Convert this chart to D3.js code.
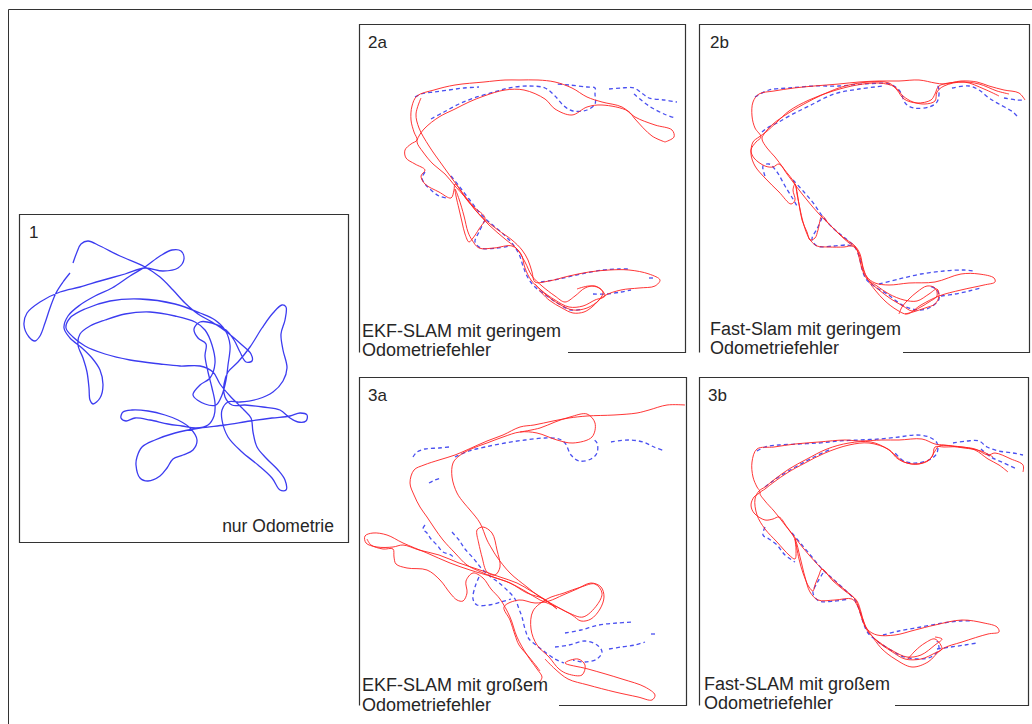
<!DOCTYPE html>
<html>
<head>
<meta charset="utf-8">
<script src="https://cdn.jsdelivr.net/npm/d3@7"></script>
<style>
  body { margin: 0; background: #fff; }
  svg { display: block; }
  .lbl { font-family: "Liberation Sans", Arial, sans-serif; fill: #262626; }
</style>
</head>
<body>
<svg id="fig" width="1032" height="724"></svg>
<script>
// panel 1: odometry only (local px units inside the panel)
const odoPath = [[54,49],[58,38],[62,30],[69,27],[81,32],[101,42],[126,53],[141,63],[154,76],[166,89],[179,100],[193,108],[209,119],[223,131],[232,140],[233,147],[227,148],[221,138],[215,126],[207,116],[193,109],[181,108],[175,115],[179,124],[187,130],[186,142],[189,158],[193,174],[196,189],[195,202],[189,211],[177,214],[163,212],[149,210],[131,206],[116,204],[107,207],[102,204],[104,198],[113,196],[129,197],[146,201],[159,206],[171,214],[178,226],[174,236],[164,241],[154,245],[148,254],[141,262],[129,267],[121,264],[117,251],[118,243],[123,233],[136,226],[156,219],[181,214],[206,211],[231,207],[253,204],[271,202],[281,199],[288,201],[287,207],[279,208],[271,204],[261,196],[244,193],[226,191],[213,191],[206,183],[205,170],[209,158],[219,148],[231,133],[243,114],[254,99],[263,91],[267,93],[266,106],[262,120],[264,136],[268,154],[264,167],[254,178],[239,185],[221,188],[209,188],[203,196],[203,206],[209,223],[223,238],[239,251],[253,264],[261,276],[267,276],[266,266],[259,256],[247,244],[238,233],[234,218],[232,204],[225,196],[211,182],[201,170],[194,158],[181,152],[161,152],[141,150],[111,146],[86,140],[66,132],[54,123],[47,114],[51,104],[66,95],[91,87],[121,85],[156,90],[181,99],[196,106],[206,116],[211,131],[209,151],[207,166],[203,181],[197,191],[186,190],[174,181],[181,171],[191,164],[196,149],[193,131],[186,116],[176,108],[156,102],[131,98],[106,100],[86,106],[71,112],[61,120],[59,131],[64,144],[68,158],[70,174],[71,186],[74,190],[81,184],[84,171],[81,156],[73,144],[63,134],[51,124],[45,114],[49,102],[61,91],[76,82],[93,74],[111,62],[126,53],[141,42],[153,36],[162,37],[165,45],[159,54],[144,57],[126,54],[106,60],[81,67],[61,73],[41,78],[21,88],[8,99],[5,111],[10,123],[16,127],[21,122],[26,109],[31,94],[37,79],[44,68],[51,59]];

// panel 2a: EKF-SLAM, small odometry error
const ekfSmallRed1 = [[306,118],[315,113],[313,106],[296,101],[276,93],[263,83],[243,78],[228,73],[213,64],[196,58],[179,56],[160,56],[146,56],[125,58],[96,61],[75,66],[58,72],[53,82],[52,96],[55,108],[58,116],[52,120],[46,126],[47,134],[56,140],[66,146],[62,152],[66,160],[80,168],[92,174],[95,166],[96,160],[108,176],[123,193],[139,206],[153,216],[163,226],[169,236],[173,248],[176,258],[190,257],[210,252],[230,248],[250,246],[270,246],[290,250],[301,256],[296,262],[280,264],[262,266],[245,272],[233,283],[225,288],[214,289],[203,284],[190,276],[180,266]];
const ekfSmallRed2 = [[176,260],[186,270],[200,280],[214,286],[228,284],[240,276],[244,268],[236,262],[226,264],[216,272],[206,278],[196,272],[183,262],[173,252],[166,238],[158,225],[146,215],[130,201],[118,188],[106,173],[96,162],[86,150],[74,140],[64,128],[58,118],[60,112],[66,104],[80,93],[96,85],[110,78],[125,72],[146,66],[165,66],[186,75],[196,85],[213,91],[228,83],[243,81],[269,87],[276,95],[293,112],[306,118]];
const ekfSmallRed3 = [[62,74],[57,90],[60,104],[70,122],[84,142],[100,164],[114,182],[126,194],[120,205],[114,214],[110,218],[106,210],[103,198],[100,185],[97,172],[96,165],[100,175],[105,192],[109,208],[113,216],[120,224],[135,224],[153,222],[162,230],[166,244],[172,256],[182,266],[196,276],[210,283],[224,282],[236,276],[246,272],[240,264],[230,262],[218,265]];
const ekfSmallBlue = [
  [[56,73],[62,70],[75,68],[90,66],[105,64],[120,63]],
  [[72,95],[85,88],[100,80],[115,74],[135,68],[150,64],[170,62],[186,64],[196,72],[205,82],[214,87],[228,86],[236,80],[236,70],[236,64],[228,63],[210,61],[196,60]],
  [[250,65],[262,64],[275,64],[284,70],[290,74],[305,76],[318,78]],
  [[275,70],[290,82],[305,90],[316,94]],
  [[66,148],[63,154],[66,160],[72,166],[80,172],[88,174]],
  [[92,152],[100,162],[110,175],[120,188],[130,198],[142,208],[152,218],[160,230],[164,242],[168,252],[175,262],[188,272],[200,280],[212,286],[224,285]],
  [[126,196],[120,208],[116,218],[122,224],[138,224],[150,222]],
  [[182,258],[200,255],[222,250],[244,246],[260,245],[270,245]],
  [[234,270],[248,270],[262,268],[272,266]],
  [[290,254],[294,254]]
];

// panel 2b: Fast-SLAM, small odometry error
const fastSmallRed1 = [[326,76],[320,69],[305,66],[290,62],[278,58],[262,57],[245,60],[236,59],[220,56],[200,57],[180,57],[160,58],[140,60],[115,62],[95,64],[75,67],[60,70],[54,78],[53,92],[56,104],[62,113],[57,118],[52,126],[55,134],[66,142],[74,143],[80,140],[88,150],[97,162],[108,176],[120,190],[132,202],[145,214],[156,222],[161,230],[164,243],[168,253],[176,259],[190,261],[210,259],[236,258],[262,250],[280,250],[295,254],[296,258],[285,261],[262,266],[240,272],[222,281],[208,290],[198,286],[186,277],[176,266],[170,258]];
const fastSmallRed2 = [[310,70],[298,67],[280,60],[262,58],[240,62],[236,70],[232,76],[218,79],[205,75],[198,66],[190,59],[170,58],[146,62],[125,70],[105,80],[88,90],[74,100],[65,110],[63,115],[68,124],[76,133],[85,145],[96,160],[98,170],[101,185],[104,198],[108,210],[112,217],[118,222],[130,223],[145,223],[153,222],[158,226],[162,236],[165,248],[171,258],[180,266],[192,275],[204,282],[213,287],[220,284],[230,278],[238,272],[236,264],[228,262],[218,268],[210,275],[203,283],[200,290]];
const fastSmallRed3 = [[300,72],[285,65],[265,58],[245,62],[238,68],[236,77],[226,80],[214,78],[204,72],[196,63],[180,59],[158,61],[134,67],[110,76],[90,87],[78,98],[67,108],[60,113],[54,118],[52,130],[56,142],[66,154],[80,168],[92,180],[96,176],[94,166],[96,160],[100,180],[103,196],[108,208],[111,216],[116,214],[119,206],[123,192],[130,200],[140,210],[150,219],[157,224],[160,233],[163,245],[168,255],[178,262],[190,270],[205,276],[218,277],[230,270],[238,265],[240,272],[236,280],[226,284],[214,288],[206,290]];
const fastSmallBlue = [
  [[56,73],[70,66],[90,64],[115,62],[140,62],[165,60],[190,60],[200,66],[207,80],[215,84],[230,83],[238,78],[240,66],[238,60]],
  [[63,108],[68,104],[78,99],[92,91],[110,82],[135,70],[160,65],[185,62]],
  [[253,64],[270,62],[280,66],[290,74],[300,80],[314,88],[318,92]],
  [[305,74],[318,76],[326,76]],
  [[66,152],[64,142],[70,140],[78,148],[86,162],[94,175],[98,182]],
  [[94,156],[105,168],[115,180],[124,193],[135,205],[146,214],[155,222],[160,232],[163,245],[167,255],[175,262],[188,270],[205,282],[220,286],[232,283],[240,275],[238,266],[230,262]],
  [[123,194],[118,205],[113,215],[118,222],[135,222],[148,221],[153,222]],
  [[180,260],[200,255],[222,250],[245,247],[265,246],[275,247]],
  [[242,272],[256,270],[270,267],[282,264]]
];

// panel 3a: EKF-SLAM, large odometry error
const ekfLargeRed1 = [[326,28],[308,28],[290,33],[278,36],[255,38],[228,39],[210,41],[194,44],[175,48],[161,50],[144,58],[128,64],[110,72],[96,78],[80,83],[65,88],[55,93],[51,106],[55,118],[61,130],[68,140],[76,152],[84,163],[96,176],[108,188],[122,195],[134,200],[151,206],[166,214],[181,223],[198,230],[213,238],[222,244],[232,242],[241,232],[245,220],[242,210],[232,206],[218,212],[204,218],[190,224],[176,226],[160,223],[145,230],[151,243],[156,258],[160,268],[170,280],[178,290],[181,294]];
const ekfLargeRed2 = [[161,55],[181,51],[196,45],[211,40],[228,37],[236,46],[233,60],[214,66],[198,63],[178,56],[161,55],[144,60],[128,66],[112,72],[100,79],[94,86],[93,100],[98,116],[105,126],[111,133],[121,146],[128,163],[133,172],[138,180],[151,196],[168,210],[181,220],[195,228],[210,236],[224,240],[238,228],[243,216],[236,207],[222,210],[205,216],[188,222],[174,234],[172,252],[178,268],[190,280],[200,292],[209,297],[223,298],[226,288],[219,282],[206,286],[229,292],[263,302],[286,310],[296,318],[293,323],[279,320],[256,315],[229,308],[209,302],[196,292],[186,282]];
const ekfLargeRed3 = [[198,232],[185,222],[168,216],[151,206],[134,200],[111,193],[91,186],[68,176],[44,166],[28,158],[14,156],[6,159],[7,166],[18,170],[34,170],[44,168],[60,173],[80,178],[100,186],[121,193],[141,200],[158,206],[172,214],[185,222],[198,232]];
const ekfLargeRed4 = [[8,162],[12,168],[24,172],[34,172],[35,180],[37,187],[48,191],[68,193],[81,203],[91,216],[98,223],[104,224],[108,216],[107,204],[114,196],[124,201],[132,212],[141,222],[151,240],[158,260],[168,278],[178,292],[183,300],[180,306]];
const ekfLargeRed5 = [[119,163],[118,153],[124,150],[133,156],[138,173],[141,190],[136,198],[128,195],[123,180],[119,163]];
const ekfLargeBlue = [
  [[54,80],[58,75],[66,72],[80,71],[90,70]],
  [[70,106],[76,103],[82,101]],
  [[96,80],[110,74],[126,70],[146,66],[166,63],[186,61],[200,62],[206,66],[212,78],[220,84],[232,82],[238,76],[238,66],[234,62]],
  [[252,65],[270,63],[284,65],[295,70],[306,74]],
  [[66,148],[64,152],[68,156],[72,162],[78,168],[84,175],[92,178],[96,182]],
  [[93,155],[100,163],[106,172],[115,182],[123,192],[132,200],[139,205],[148,213],[156,222],[160,232],[163,240],[166,252],[170,262],[177,268],[186,275],[196,282],[205,286]],
  [[120,200],[116,210],[114,222],[118,228],[130,228],[142,225],[152,222]],
  [[206,256],[222,253],[240,248],[258,246],[273,245]],
  [[196,270],[210,268],[226,264],[238,268],[243,275],[238,282],[226,285],[214,283]],
  [[250,272],[262,270],[276,268],[286,265]],
  [[292,257],[296,257]]
];

// panel 3b: Fast-SLAM, large odometry error
const fastLargeRed1 = [[324,95],[324,88],[312,82],[296,76],[289,78],[276,72],[263,70],[245,68],[236,67],[223,62],[200,63],[183,63],[160,64],[146,63],[120,65],[96,67],[75,70],[58,72],[53,85],[54,100],[58,110],[61,115],[55,120],[52,128],[55,136],[66,143],[74,142],[80,140],[88,150],[97,162],[110,178],[123,192],[139,207],[152,218],[158,224],[162,235],[165,246],[169,253],[178,258],[196,258],[216,253],[236,248],[263,243],[285,246],[298,250],[300,255],[289,257],[263,265],[243,272],[229,285],[213,290],[196,282],[183,272],[175,262]];
const fastLargeRed2 = [[309,95],[300,88],[289,82],[276,73],[263,70],[245,70],[236,70],[233,80],[220,87],[205,85],[196,78],[189,72],[170,66],[150,68],[126,76],[106,86],[88,96],[75,105],[66,112],[61,116],[66,124],[75,134],[86,148],[96,162],[101,180],[106,200],[111,215],[119,223],[136,223],[153,222],[158,228],[163,240],[168,252],[178,264],[192,274],[206,282],[222,282],[236,276],[243,272],[236,262],[226,266],[216,274],[209,282]];
const fastLargeRed3 = [[294,80],[282,74],[265,71],[240,69],[236,74],[229,84],[213,87],[199,82],[190,73],[172,65],[150,66],[128,72],[108,82],[90,92],[76,102],[66,110],[60,114],[56,122],[58,138],[66,152],[78,165],[90,178],[96,182],[97,172],[96,162],[100,182],[104,196],[110,210],[114,214],[116,208],[120,198],[123,192],[134,204],[146,214],[156,222],[160,232],[164,245],[170,256],[180,265],[194,274],[208,280],[222,278],[236,268],[243,262],[236,260]];
const fastLargeBlue = [
  [[58,74],[66,70],[80,68],[100,67],[120,66],[140,64],[160,63],[180,62],[200,60],[216,58],[230,60],[238,66],[238,76],[232,82],[218,86],[205,84],[196,76]],
  [[66,110],[74,104],[86,96],[100,88],[115,80],[132,72]],
  [[254,66],[268,64],[280,64],[288,70],[300,74],[314,76],[324,78]],
  [[282,72],[292,80],[305,86],[318,92]],
  [[66,150],[64,158],[70,162],[78,168],[86,178],[96,185]],
  [[93,156],[103,168],[113,180],[123,192],[134,202],[145,212],[155,222],[160,232],[164,245],[169,256],[178,264],[190,272],[205,280],[220,282],[232,280],[240,272],[238,264]],
  [[124,196],[118,206],[114,216],[120,224],[136,224],[150,222]],
  [[184,258],[200,254],[222,250],[244,246],[262,244],[274,244]],
  [[238,272],[252,270],[266,268],[278,266]]
];

const panelIds = ["1", "2a", "2b", "3a", "3b"];
const captions = [
  ["nur Odometrie"],
  ["EKF-SLAM mit geringem", "Odometriefehler"],
  ["Fast-Slam mit geringem", "Odometriefehler"],
  ["EKF-SLAM mit großem", "Odometriefehler"],
  ["Fast-SLAM mit großem", "Odometriefehler"]
];

const svg = d3.select("#fig");
const font = '"Liberation Sans", Arial, sans-serif';

// outer frame (top and left edge visible)
svg.append("path")
  .attr("d", "M8.5,724 V9.5 H1032")
  .attr("fill", "none").attr("stroke", "#333").attr("stroke-width", 1);

// panel layout: box, label pos, caption pos, where the bottom edge starts
const layout = [
  {x: 19, y: 214, w: 329, h: 328, full: true, idX: 29, idY: 238, capX: 334, capY: [532], anchor: "end", capSize: 17.5},
  {x: 359, y: 24, w: 326, h: 328, bottomFrom: 568, idX: 368, idY: 48, capX: 362, capY: [337, 356]},
  {x: 699, y: 24, w: 330, h: 328, bottomFrom: 903, idX: 710, idY: 48, capX: 710, capY: [335, 354]},
  {x: 359, y: 377, w: 327, h: 328, bottomFrom: 559, idX: 368, idY: 401, capX: 362, capY: [691, 711]},
  {x: 699, y: 377, w: 329, h: 328, bottomFrom: 895, idX: 708, idY: 401, capX: 704, capY: [690, 709]}
];

const redSets = [[], [ekfSmallRed1, ekfSmallRed2, ekfSmallRed3], [fastSmallRed1, fastSmallRed2, fastSmallRed3],
  [ekfLargeRed1, ekfLargeRed2, ekfLargeRed3, ekfLargeRed4, ekfLargeRed5], [fastLargeRed1, fastLargeRed2, fastLargeRed3]];
const blueSets = [[], ekfSmallBlue, fastSmallBlue, ekfLargeBlue, fastLargeBlue];

layout.forEach((p, i) => {
  const g = svg.append("g");
  const xs = d3.scaleLinear().domain([0, p.w]).range([p.x, p.x + p.w]);
  const ys = d3.scaleLinear().domain([0, p.h]).range([p.y, p.y + p.h]);
  const line = d3.line().x(d => xs(d[0])).y(d => ys(d[1])).curve(d3.curveCatmullRom.alpha(0.5));

  // frame
  const x0 = p.x + 0.5, y0 = p.y + 0.5, x1 = p.x + p.w + 0.5, y1 = p.y + p.h + 0.5;
  const d = p.full
    ? `M${x0},${y0} H${x1} V${y1} H${x0} Z`
    : `M${x0},${y1} V${y0} H${x1} V${y1} H${p.bottomFrom}`;
  g.append("path").attr("d", d).attr("fill", "none").attr("stroke", "#333").attr("stroke-width", 1.2);

  if (i === 0) {
    g.append("path").attr("d", line(odoPath))
      .attr("fill", "none").attr("stroke", "#3c3cf0").attr("stroke-width", 1.3);
  } else {
    blueSets[i].forEach(seg => {
      g.append("path").attr("d", line(seg))
        .attr("fill", "none").attr("stroke", "#4a50f0").attr("stroke-width", 1.3)
        .attr("stroke-dasharray", "4,3");
    });
    redSets[i].forEach(seg => {
      g.append("path").attr("d", line(seg))
        .attr("fill", "none").attr("stroke", "#ff2020").attr("stroke-width", 1)
        .attr("stroke-opacity", 0.9);
    });
  }

  g.append("text").attr("class", "lbl")
    .attr("x", p.idX).attr("y", p.idY)
    .style("font-size", "17px").style("font-family", font)
    .text(panelIds[i]);

  captions[i].forEach((t, k) => {
    g.append("text").attr("class", "lbl")
      .attr("x", p.capX).attr("y", p.capY[k])
      .attr("text-anchor", p.anchor || "start")
      .style("font-size", (p.capSize || 18) + "px").style("font-family", font)
      .text(t);
  });
});
</script>
</body>
</html>
